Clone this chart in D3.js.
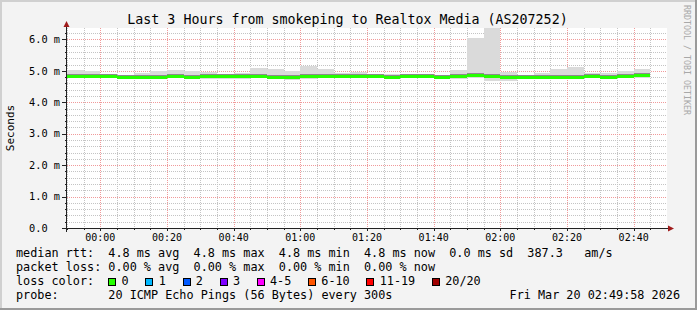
<!DOCTYPE html>
<html>
<head>
<meta charset="utf-8">
<script src="https://cdn.jsdelivr.net/npm/d3@7"></script>
<style>
  html, body { margin: 0; padding: 0; background: #f3f3f3; }
  svg { display: block; }
  text { font-family: "DejaVu Sans Mono", monospace; white-space: pre; fill: #000; }
</style>
</head>
<body>
<svg id="chart"></svg>
<script>
// 5 minute steps, 23:50 .. 02:45 (values in ms)
const startTime = new Date(2026, 2, 19, 23, 50);
const endTime = new Date(2026, 2, 20, 2, 50);
const medianRtt = [4.81, 4.81, 4.80, 4.78, 4.78, 4.78, 4.81, 4.78, 4.81, 4.80,
                   4.80, 4.81, 4.79, 4.78, 4.81, 4.81, 4.81, 4.81, 4.81, 4.79,
                   4.81, 4.81, 4.78, 4.81, 4.84, 4.81, 4.79, 4.79, 4.79, 4.79,
                   4.79, 4.81, 4.79, 4.81, 4.84];
const maxRtt = [5.03, 5.01, 4.86, 4.86, 4.94, 4.99, 5.02, 5.00, 4.96, 4.85,
                4.94, 5.09, 5.06, 5.01, 5.16, 5.07, 4.92, 4.98, 4.90, 4.90,
                4.90, 4.86, 4.85, 5.02, 6.06, 6.38, 4.95, 4.84, 4.94, 5.07,
                5.13, 4.94, 4.94, 4.99, 5.07];
const minRtt = [4.76, 4.76, 4.76, 4.74, 4.74, 4.75, 4.76, 4.74, 4.75, 4.73,
                4.75, 4.76, 4.74, 4.70, 4.75, 4.76, 4.76, 4.76, 4.76, 4.74,
                4.76, 4.76, 4.74, 4.75, 4.78, 4.69, 4.69, 4.74, 4.74, 4.74,
                4.74, 4.76, 4.74, 4.76, 4.78];
const upperRtt = [4.90, 4.88, 4.83, 4.82, 4.84, 4.86, 4.88, 4.84, 4.85, 4.82,
                  4.84, 4.86, 4.86, 4.84, 4.90, 4.88, 4.85, 4.86, 4.84, 4.83,
                  4.84, 4.83, 4.81, 4.87, 4.93, 4.87, 4.84, 4.82, 4.84, 4.88,
                  4.88, 4.86, 4.84, 4.86, 4.90];
const yTicks = [0, 1, 2, 3, 4, 5, 6];
const lossLabels = ["0", "1", "2", "3", "4-5", "6-10", "11-19", "20/20"];
const lossColors = ["#26ff00", "#00b8ff", "#0059ff", "#7e00ff", "#ff00ff", "#ff5500", "#ff0000", "#a00000"];

const svgWidth = 697, svgHeight = 310;
const plot = { left: 67, right: 667, top: 28, bottom: 228 };

const svg = d3.select('#chart').attr('width', svgWidth).attr('height', svgHeight);

const xScale = d3.scaleTime().domain([startTime, endTime]).range([plot.left, plot.right]);
const yScale = d3.scaleLinear().domain([0, 6.366]).range([plot.bottom, plot.top]);
const stepTimes = d3.timeMinute.every(5).range(startTime, endTime).slice(0, medianRtt.length);
const stepEnd = t => d3.timeMinute.offset(t, 5);
const px = v => Math.round(v);

// frame
svg.append('rect').attr('width', svgWidth).attr('height', svgHeight).attr('fill', '#f3f3f3');
svg.append('path').attr('d', `M1,${svgHeight} V1 H${svgWidth}`).attr('stroke', '#d0d0d0').attr('stroke-width', 2).attr('fill', 'none');
svg.append('path').attr('d', `M0,${svgHeight - 1} H${svgWidth - 1} V0`).attr('stroke', '#9a9a9a').attr('stroke-width', 2).attr('fill', 'none');

svg.append('rect')
   .attr('x', plot.left).attr('y', plot.top)
   .attr('width', plot.right - plot.left).attr('height', plot.bottom - plot.top)
   .attr('fill', '#fff');

svg.append('clipPath').attr('id', 'clip').append('rect')
   .attr('x', plot.left).attr('y', plot.top)
   .attr('width', plot.right - plot.left).attr('height', plot.bottom - plot.top);

// grid
const grid = svg.append('g').attr('shape-rendering', 'crispEdges');
const minorY = d3.range(0, 6.4, 0.2).filter(v => Math.abs(v - Math.round(v)) > 0.01);
grid.selectAll('.hminor').data(minorY).enter().append('line')
    .attr('x1', plot.left).attr('x2', plot.right)
    .attr('y1', d => px(yScale(d)) + 0.5).attr('y2', d => px(yScale(d)) + 0.5)
    .attr('stroke', '#c4c4c4').attr('stroke-dasharray', '1,1');
const minorX = d3.timeMinute.every(5).range(startTime, endTime).filter(t => t.getMinutes() % 20 !== 0);
grid.selectAll('.vminor').data(minorX).enter().append('line')
    .attr('x1', d => px(xScale(d)) + 0.5).attr('x2', d => px(xScale(d)) + 0.5)
    .attr('y1', plot.top).attr('y2', plot.bottom)
    .attr('stroke', '#c4c4c4').attr('stroke-dasharray', '1,1');
grid.selectAll('.hmajor').data(yTicks.slice(1)).enter().append('line')
    .attr('x1', plot.left).attr('x2', plot.right)
    .attr('y1', d => px(yScale(d)) + 0.5).attr('y2', d => px(yScale(d)) + 0.5)
    .attr('stroke', '#f09a9a').attr('stroke-dasharray', '1,1');
const majorX = d3.timeMinute.every(20).range(startTime, endTime);
grid.selectAll('.vmajor').data(majorX).enter().append('line')
    .attr('x1', d => px(xScale(d)) + 0.5).attr('x2', d => px(xScale(d)) + 0.5)
    .attr('y1', plot.top).attr('y2', plot.bottom)
    .attr('stroke', '#f09a9a').attr('stroke-dasharray', '1,1');

// smoke
const smoke = svg.append('g').attr('clip-path', 'url(#clip)').attr('shape-rendering', 'crispEdges');
const barX = d => px(xScale(d));
const barW = d => px(xScale(stepEnd(d))) - px(xScale(d));
smoke.selectAll('.outer').data(stepTimes).enter().append('rect')
     .attr('x', barX).attr('width', barW)
     .attr('y', (d, i) => px(yScale(maxRtt[i])))
     .attr('height', (d, i) => px(yScale(minRtt[i])) - px(yScale(maxRtt[i])))
     .attr('fill', '#dadada');
smoke.selectAll('.inner').data(stepTimes).enter().append('rect')
     .attr('x', barX).attr('width', barW)
     .attr('y', (d, i) => px(yScale(upperRtt[i])))
     .attr('height', (d, i) => px(yScale(medianRtt[i])) - px(yScale(upperRtt[i])))
     .attr('fill', '#c0c0c0');
smoke.selectAll('.dark').data(stepTimes).enter().append('rect')
     .attr('x', barX).attr('width', barW)
     .attr('y', (d, i) => px(yScale(medianRtt[i])) - 3)
     .attr('height', 1)
     .attr('fill', '#8c8c8c');

// median line
smoke.selectAll('.median').data(stepTimes).enter().append('rect')
     .attr('x', barX).attr('width', barW)
     .attr('y', (d, i) => px(yScale(medianRtt[i])) - 2)
     .attr('height', 3)
     .attr('fill', lossColors[0]);

// axes
const axis = svg.append('g').attr('shape-rendering', 'crispEdges');
axis.append('line').attr('x1', 63).attr('x2', 670).attr('y1', plot.bottom + 0.5).attr('y2', plot.bottom + 0.5).attr('stroke', '#222');
axis.append('line').attr('x1', plot.left - 0.5).attr('x2', plot.left - 0.5).attr('y1', 232).attr('y2', 22).attr('stroke', '#222');
svg.append('path').attr('d', `M${plot.left - 3.5},27 L${plot.left - 0.5},21 L${plot.left + 2.5},27 Z`).attr('fill', '#a01c1c');
svg.append('path').attr('d', `M668,${plot.bottom - 2.5} L674,${plot.bottom + 0.5} L668,${plot.bottom + 3.5} Z`).attr('fill', '#a01c1c');

axis.selectAll('.ytick').data(yTicks).enter().append('line')
    .attr('x1', plot.left - 5).attr('x2', plot.left)
    .attr('y1', d => px(yScale(d)) + 0.5).attr('y2', d => px(yScale(d)) + 0.5)
    .attr('stroke', '#222');
axis.selectAll('.ymtick').data(minorY).enter().append('line')
    .attr('x1', plot.left - 2).attr('x2', plot.left)
    .attr('y1', d => px(yScale(d)) + 0.5).attr('y2', d => px(yScale(d)) + 0.5)
    .attr('stroke', '#222');
axis.selectAll('.xtick').data(majorX).enter().append('line')
    .attr('x1', d => px(xScale(d)) + 0.5).attr('x2', d => px(xScale(d)) + 0.5)
    .attr('y1', plot.bottom).attr('y2', plot.bottom + 3)
    .attr('stroke', '#222');
axis.selectAll('.xmtick').data(minorX).enter().append('line')
    .attr('x1', d => px(xScale(d)) + 0.5).attr('x2', d => px(xScale(d)) + 0.5)
    .attr('y1', plot.bottom).attr('y2', plot.bottom + 2)
    .attr('stroke', '#222');

const fmtTime = d3.timeFormat('%H:%M');
svg.selectAll('.xlabel').data(majorX).enter().append('text')
   .attr('x', d => xScale(d)).attr('y', 240.7)
   .attr('text-anchor', 'middle').style('font-size', '10px')
   .text(d => fmtTime(d));

svg.selectAll('.ylabel').data(yTicks).enter().append('text')
   .attr('x', 60).attr('y', d => yScale(d) + 3.6)
   .attr('text-anchor', 'end').style('font-size', '10.3px')
   .text(d => d === 0 ? '0.0  ' : d3.format('.1f')(d) + ' m');

svg.append('text')
   .attr('transform', `translate(14, ${(plot.top + plot.bottom) / 2}) rotate(-90)`)
   .attr('text-anchor', 'middle').style('font-size', '11px')
   .text('Seconds');

svg.append('text')
   .attr('x', svgWidth / 2 - 1).attr('y', 24)
   .attr('text-anchor', 'middle').style('font-size', '13.3px')
   .text('Last 3 Hours from smokeping to Realtox Media (AS207252)');

svg.append('text')
   .attr('transform', 'translate(684, 5) rotate(90)')
   .style('font-size', '8.3px').style('fill', '#a8a8a8')
   .text('RRDTOOL / TOBI OETIKER');

// legend
const legendFont = '11.8px';
const legendRows = [
  { y: 257.3, text: 'median rtt:  4.8 ms avg  4.8 ms max  4.8 ms min  4.8 ms now  0.0 ms sd  387.3   am/s' },
  { y: 271.3, text: 'packet loss: 0.00 % avg  0.00 % max  0.00 % min  0.00 % now' },
  { y: 285.3, text: 'loss color:' },
  { y: 299.3, text: 'probe:       20 ICMP Echo Pings (56 Bytes) every 300s' }
];
svg.selectAll('.legend').data(legendRows).enter().append('text')
   .attr('x', 16).attr('y', d => d.y)
   .style('font-size', legendFont)
   .text(d => d.text);

let lx = 108.3;
lossLabels.forEach((label, i) => {
  svg.append('rect')
     .attr('x', Math.round(lx) + 0.5).attr('y', 278.5)
     .attr('width', 7).attr('height', 7)
     .attr('fill', lossColors[i]).attr('stroke', '#000').attr('stroke-width', 1)
     .attr('shape-rendering', 'crispEdges');
  svg.append('text')
     .attr('x', lx + 13.3).attr('y', 285.3)
     .style('font-size', legendFont)
     .text(label);
  lx += 30 + 7.1 * label.length;
});

svg.append('text')
   .attr('x', 680).attr('y', 299.3)
   .attr('text-anchor', 'end').style('font-size', legendFont)
   .text('Fri Mar 20 02:49:58 2026');
</script>
</body>
</html>
